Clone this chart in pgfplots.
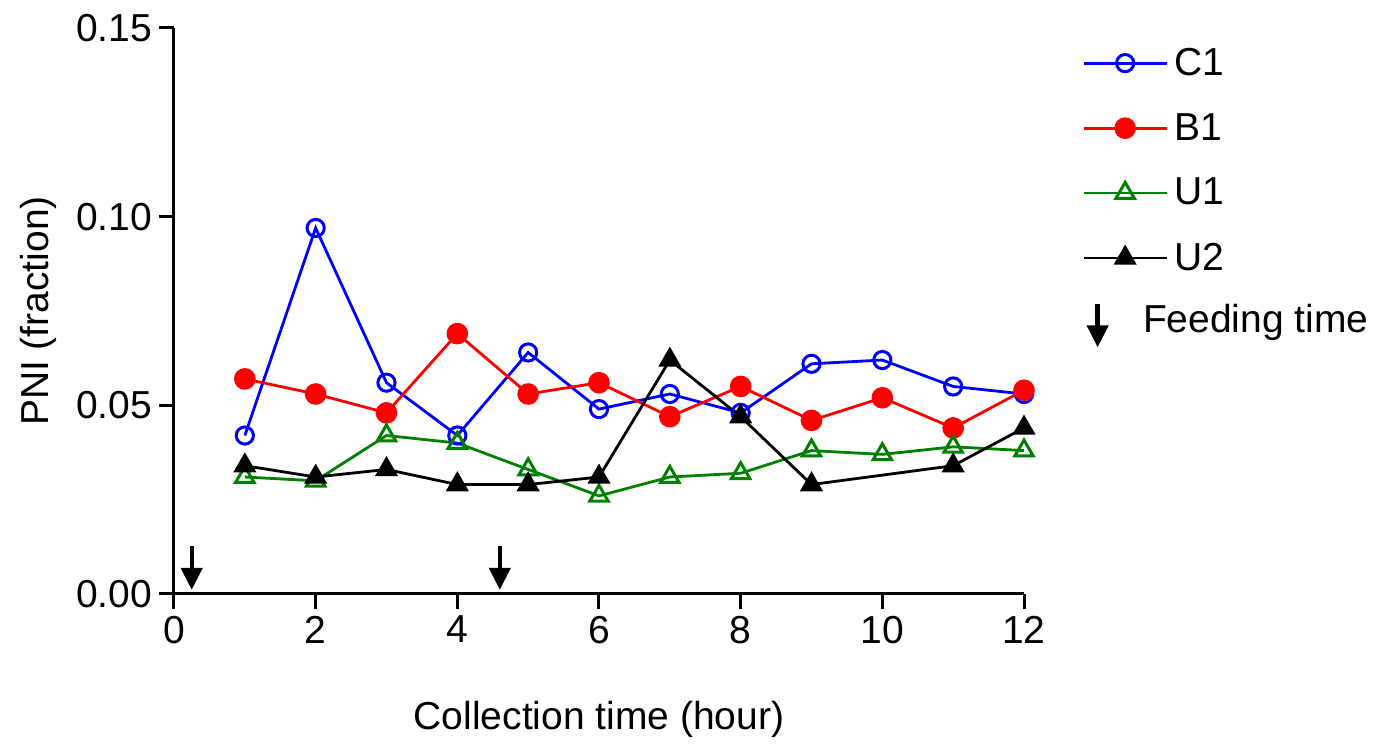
\documentclass[border=0pt]{standalone}
\usepackage{fontspec}
\setmainfont{Liberation Sans}
\usepackage{pgfplots}
\pgfplotsset{compat=1.18}
\usetikzlibrary{arrows.meta}

\definecolor{cblue}{RGB}{0,0,255}
\definecolor{cred}{RGB}{255,0,0}
\definecolor{cgreen}{RGB}{0,128,0}

\newcommand{\bigfont}{\fontsize{19.5}{22}\selectfont}

\begin{document}
\begin{tikzpicture}
\begin{axis}[
    scale only axis,
    width=425pt, height=283pt,
    at={(0,0)}, anchor=south west,
    xmin=0, xmax=12, ymin=0, ymax=0.15,
    axis x line*=bottom, axis y line*=left,
    axis line style={-, line width=1.5pt, black},
    xtick={0,2,...,12},
    ytick={0,0.05,0.10,0.15},
    tick align=outside,
    major tick length=7.5pt,
    tick style={line width=1.5pt, black},
    minor tick num=0,
    /pgf/number format/assume math mode=true,
    yticklabel style={/pgf/number format/.cd, fixed, fixed zerofill, precision=2},
    tick label style={font=\bigfont},
    label style={font=\bigfont},
    xlabel={Collection time (hour)},
    ylabel={PNI (fraction)},
    xlabel style={at={(axis description cs:0.5,-0.222)}, anchor=center},
    ylabel style={at={(axis description cs:-0.16,0.5)}, anchor=center},
    clip=false,
    legend style={at={(axis description cs:1.061,0.983)}, anchor=north west,
        draw=none, fill=none, font=\bigfont, row sep=11.5pt,
        nodes={inner sep=3pt}},
    legend cell align=left,
    legend image code/.code={\draw[mark repeat=2,mark phase=2]
        plot coordinates {(0pt,0pt) (20.75pt,0pt) (41.5pt,0pt)};},
    every axis plot/.append style={line width=1.4pt},
]
% C1
\addplot[color=cblue, mark=o, mark size=4.3pt, mark options={fill=white, line width=1.5pt}]
coordinates {(1,0.042) (2,0.097) (3,0.056) (4,0.042) (5,0.064) (6,0.049)
 (7,0.053) (8,0.048) (9,0.061) (10,0.062) (11,0.055) (12,0.053)};
\addlegendentry{C1}
% B1
\addplot[color=cred, mark=*, mark size=4.7pt, mark options={fill=cred, draw=cred}]
coordinates {(1,0.057) (2,0.053) (3,0.048) (4,0.069) (5,0.053) (6,0.056)
 (7,0.047) (8,0.055) (9,0.046) (10,0.052) (11,0.044) (12,0.054)};
\addlegendentry{B1}
% U1
\addplot[color=cgreen, mark=triangle, mark size=5.3pt, mark options={fill=white, line width=1.5pt}]
coordinates {(1,0.031) (2,0.030) (3,0.042) (4,0.040) (5,0.033) (6,0.026)
 (7,0.031) (8,0.032) (9,0.038) (10,0.037) (11,0.039) (12,0.038)};
\addlegendentry{U1}
% U2
\addplot[color=black, mark=triangle*, mark size=5.3pt]
coordinates {(1,0.034) (2,0.031) (3,0.033) (4,0.029) (5,0.029) (6,0.031)
 (7,0.062) (8,0.047) (9,0.029) (11,0.034) (12,0.044)};
\addlegendentry{U2}
\addlegendimage{legend image code/.code={
    \draw[line width=2.2pt,-{Triangle[length=11pt,width=10.5pt]}] (7pt,9pt) -- (7pt,-12.5pt);
    \node[overlay, anchor=west, inner sep=0pt, font=\bigfont] at (29pt,1pt) {Feeding time};}}
\addlegendentry{}
% feeding arrows
\draw[line width=2.2pt,-{Triangle[length=11pt,width=10.5pt]}] (axis cs:0.25,0.0127) -- (axis cs:0.25,0.0011);
\draw[line width=2.2pt,-{Triangle[length=11pt,width=10.5pt]}] (axis cs:4.6,0.0127) -- (axis cs:4.6,0.0011);
\end{axis}
\pgfresetboundingbox
\path (-87pt,-76.5pt) rectangle (602pt,297pt);
\end{tikzpicture}
\end{document}
